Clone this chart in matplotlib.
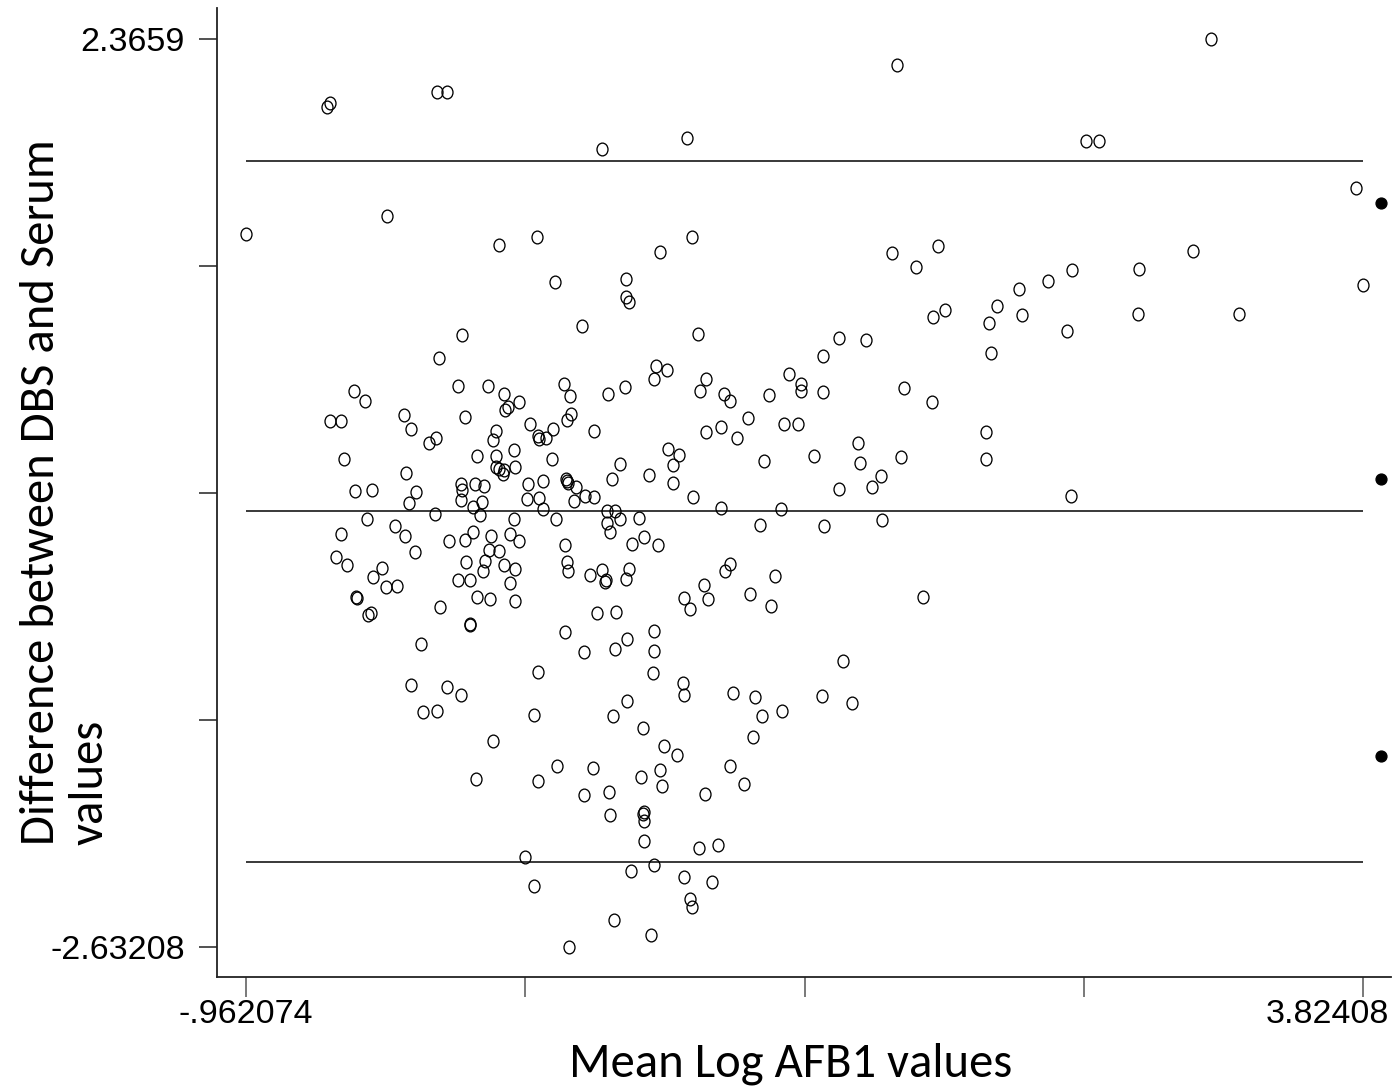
import matplotlib
matplotlib.use("Agg")
import matplotlib.pyplot as plt
from matplotlib.path import Path
from matplotlib.markers import MarkerStyle
from matplotlib.transforms import Affine2D, ScaledTranslation

# ---- data ----
mean_log_afb1 = [
    -0.616, -0.602, -0.145, -0.102, -0.963, -0.358, 0.120, 0.283, 0.363, 0.476,
    -0.035, 0.562, 0.927, 1.827, 0.949, 0.813, 0.665, 0.665, 0.680, 0.974,
    1.805, 1.907, 2.001, 1.980, 2.034, 2.221, 1.577, 1.693, 3.171, 2.636,
    2.691, 3.794, 3.093, 2.575, 2.475, 2.351, 2.255, 2.361, 2.555, 2.863,
    2.860, 3.293, 3.824, 2.229, 2.208, 2.208, 2.572, 1.510, 0.793, 0.843,
    0.786, 1.007, 0.662, 0.589, 0.982, 1.086, 1.111, 1.278, 1.363, 1.414,
    1.417, 1.510, 1.855, 1.978, 1.187, 1.343, 1.401, 1.071, 1.007, 1.141,
    0.529, 1.660, 1.471, 1.667, 1.843, 0.847, 0.894, 0.641, 0.866, 0.766,
    0.607, 0.868, 1.257, 1.759, 1.718, 1.577, 0.529, 0.953, 1.071, 1.330,
    0.586, 0.619, 0.584, 0.641, 0.720, 0.599, 1.241, 1.514, 1.764, 0.744,
    0.693, 0.802, 0.512, 0.562, 0.579, 0.576, 0.679, 0.665, 1.111, 1.090,
    1.304, 0.999, 0.914, 1.016, 0.940, 1.198, 1.288, 1.939, 0.542, 0.622,
    0.786, 0.671, 0.620, 0.785, 0.780, 1.597, 0.911, 0.914, 0.671, 0.609,
    0.737, 1.125, 1.220, 1.333, 1.250, 1.209, 1.504, 1.635, 0.827, 0.886,
    0.523, 0.810, 0.729, 0.821, 0.593, 1.111, 1.170, 1.003, 0.596, 0.744,
    0.740, 0.744, 0.744, 0.977, 1.061, 0.785, 0.689, 0.914, 1.036, 0.940,
    0.949, 0.613, 0.773, -0.254, -0.102, -0.040, -0.203, -0.145, 0.290, 0.273,
    0.095, 0.022, 0.288, 0.369, 0.485, 0.233, 0.273, 0.420, -0.135, -0.054,
    0.073, -0.501, -0.451, 0.145, 0.162, 0.149, 0.208, 0.399, 0.425, 0.429,
    0.414, -0.602, -0.555, -0.287, -0.254, -0.178, -0.149, -0.025, 0.109, 0.095,
    0.253, 0.290, 0.294, 0.322, 0.352, -0.541, 0.026, 0.109, 0.185, 0.109,
    0.123, 0.142, 0.140, 0.192, 0.349, -0.275, -0.496, -0.421, -0.233, -0.263,
    -0.040, -0.035, -0.040, 0.019, 0.059, 0.049, 0.009, 0.040, -0.154, 0.247,
    0.309, 0.243, 0.294, 0.309, 0.408, 0.412, 0.419, 0.450, 0.443, 0.490,
    0.366, 0.185, -0.442, -0.554, -0.322, -0.281, -0.237, -0.576, -0.531, -0.381,
    -0.417, -0.362, -0.316, -0.489, -0.487, -0.441, -0.428, -0.091, -0.025, 0.009,
    0.086, 0.170, 0.208, 0.078, 0.120, -0.021, 0.063, 0.052, 0.145, 0.189,
    -0.054, -0.003, 0.170, 0.029, 0.083, 0.189, 0.405, 0.412, 0.417, -0.131,
    -0.004, -0.003, -0.211, 0.405, 0.485,
]
difference = [
    1.990, 2.016, 2.076, 2.076, 1.291, 1.390, 1.232, 1.276, 1.027, 0.788,
    0.737, 1.762, 1.823, 2.221, 1.276, 1.194, 1.044, 0.948, 0.919, 0.741,
    1.187, 1.111, 1.229, 0.835, 0.873, 0.802, 0.718, 0.708, 2.366, 1.805,
    1.805, 1.546, 1.201, 1.097, 1.036, 0.990, 0.899, 0.847, 0.758, 1.102,
    0.853, 0.853, 1.012, 0.638, 0.202, 0.057, -0.149, 0.623, 0.565, 0.545,
    0.497, 0.494, 0.451, 0.413, 0.427, 0.411, 0.376, 0.405, 0.521, 0.466,
    0.427, 0.422, 0.447, 0.370, 0.281, 0.249, 0.249, 0.229, 0.202, 0.172,
    0.209, 0.143, 0.070, 0.033, 0.068, 0.110, 0.079, 0.027, 0.022, -0.035,
    -0.054, -0.077, 0.044, -0.037, -0.101, -0.112, -0.153, -0.153, -0.215, -0.220,
    -0.233, -0.233, -0.297, -0.275, -0.270, -0.348, -0.308, -0.314, -0.279, -0.374,
    -0.415, -0.420, -0.581, -0.556, -0.611, -0.620, -0.552, -0.604, -0.525, -0.561,
    -0.589, -0.637, -0.710, -0.714, -0.772, -0.688, -0.756, -0.703, -0.791, -0.785,
    -0.890, -0.936, -0.992, -1.000, -1.124, -1.059, -1.179, -1.242, -1.278, -1.358,
    -1.424, -1.231, -1.253, -1.330, -1.358, -1.477, -1.248, -1.288, -1.523, -1.574,
    -1.643, -1.656, -1.695, -1.746, -1.776, -1.633, -1.732, -1.789, -1.906, -1.889,
    -1.900, -1.939, -2.046, -2.084, -2.067, -2.178, -2.211, -2.244, -2.274, -2.368,
    -2.410, -2.480, -2.566, -1.190, -1.198, -1.242, -1.336, -1.330, -1.116, -1.352,
    -1.497, -1.704, -1.719, -1.634, -1.794, -2.135, -2.296, -2.630, 0.609, 0.457,
    0.457, 0.431, 0.376, 0.414, 0.343, 0.325, 0.370, 0.469, 0.400, 0.302,
    0.268, 0.266, 0.266, 0.295, 0.220, 0.143, 0.169, 0.286, 0.209, 0.161,
    0.249, 0.181, 0.163, 0.169, 0.220, 0.053, 0.070, 0.071, 0.104, 0.012,
    -0.002, -0.007, -0.028, 0.009, 0.053, -0.024, -0.123, -0.117, -0.125, -0.186,
    -0.084, -0.114, -0.169, -0.083, -0.092, -0.183, -0.208, -0.252, -0.246, -0.083,
    -0.065, -0.167, -0.161, -0.222, -0.057, -0.066, -0.077, -0.101, -0.175, -0.147,
    -0.275, -0.274, -0.275, -0.359, -0.314, -0.367, -0.459, -0.483, -0.528, -0.547,
    -0.594, -0.651, -0.642, -0.705, -0.708, -0.802, -0.791, -0.396, -0.393, -0.348,
    -0.367, -0.359, -0.396, -0.448, -0.453, -0.510, -0.508, -0.560, -0.530, -0.552,
    -0.609, -0.609, -0.627, -0.703, -0.716, -0.727, -0.418, -0.514, -0.561, -0.761,
    -0.851, -0.857, -0.963, -0.899, -1.005,
]

mean_difference = -0.233
upper_limit = 1.697
lower_limit = -2.164

side_marker_x = [3.899, 3.899, 3.899]
side_marker_y = [1.465, -0.054, -1.578]

x_ticks = [-0.962074, 0.234461, 1.430996, 2.627545, 3.82408]
x_tick_labels = ["-.962074", "", "", "", "3.82408"]
y_ticks = [-2.63208, -1.382585, -0.13309, 1.116405, 2.3659]
y_tick_labels = ["-2.63208", "", "", "", "2.3659"]

# ---- figure ----
fig = plt.figure(figsize=(13.92, 10.91), dpi=100)
ax = fig.add_axes([217 / 1392, 1 - 977 / 1091, (1391 - 217) / 1392, (977 - 8) / 1091])
ax.set_xlim(-1.086, 3.943)
ax.set_ylim(-2.7955, 2.5365)

# slightly tall open ellipse marker
ell = Path.unit_circle().transformed(Affine2D().scale(0.86, 1.0))
marker = MarkerStyle(ell)

ax.hlines([upper_limit, mean_difference, lower_limit], x_ticks[0], x_ticks[-1],
          colors="#2a2a2a", linewidth=1.3, zorder=1)
ax.plot(mean_log_afb1, difference, linestyle="none", marker=marker,
        markersize=9.2, markerfacecolor="none", markeredgecolor="black",
        markeredgewidth=0.95, zorder=2)
ax.plot(side_marker_x, side_marker_y, linestyle="none", marker="o",
        markersize=7.8, color="black", clip_on=False, zorder=3)

for s in ["top", "right"]:
    ax.spines[s].set_visible(False)
for s in ["left", "bottom"]:
    ax.spines[s].set_linewidth(1.3)
    ax.spines[s].set_color("#222222")

tick_font = dict(family=["Liberation Sans Narrow", "Liberation Sans", "DejaVu Sans"], size=24.5)
ax.set_xticks(x_ticks)
ax.set_xticklabels(x_tick_labels, fontdict=tick_font)
ax.set_yticks(y_ticks)
ax.set_yticklabels(y_tick_labels, fontdict=tick_font)
ax.tick_params(axis="y", direction="out", length=13, width=1.1, pad=10, color="#222222")
ax.tick_params(axis="x", direction="out", length=14.5, width=1.1, pad=1, color="#555555")

# the last x label is pushed left so it stays inside the image
last = ax.get_xticklabels()[-1]
last.set_horizontalalignment("right")
last.set_transform(last.get_transform() + ScaledTranslation(26 / 100, 0, fig.dpi_scale_trans))

label_font = ["Carlito", "Lato", "DejaVu Sans"]
fig.text(791 / 1392, 1 - 1064 / 1091, "Mean Log AFB1 values", ha="center", va="center",
         fontsize=35, family=label_font)
fig.text(65 / 1392, 1 - 492 / 1091, "Difference between DBS and Serum\nvalues",
         rotation=90, ha="center", va="center", multialignment="left",
         fontsize=35, family=label_font, linespacing=1.2)

fig.savefig("out.png", dpi=100)
